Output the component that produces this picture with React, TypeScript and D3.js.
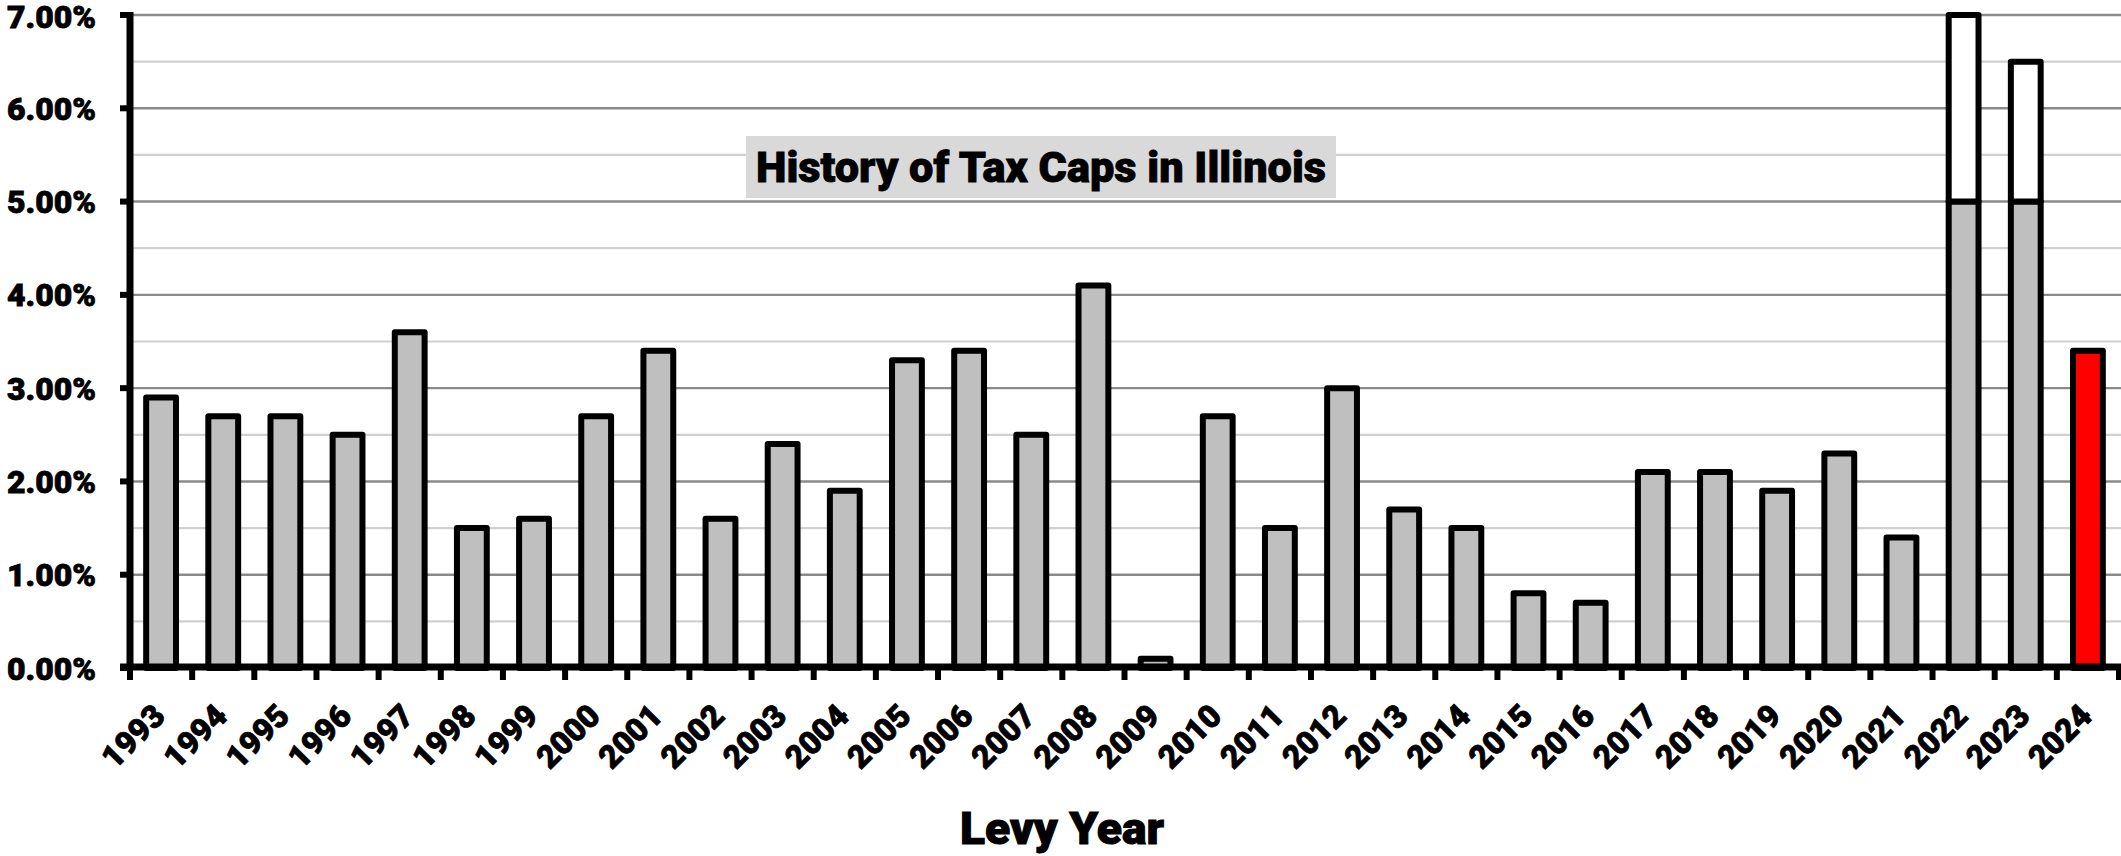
import React from "react";
import * as d3 from "d3";

const years = ["1993","1994","1995","1996","1997","1998","1999","2000","2001","2002","2003","2004","2005","2006","2007","2008","2009","2010","2011","2012","2013","2014","2015","2016","2017","2018","2019","2020","2021","2022","2023","2024"];
const capValues = [2.9,2.7,2.7,2.5,3.6,1.5,1.6,2.7,3.4,1.6,2.4,1.9,3.3,3.4,2.5,4.1,0.1,2.7,1.5,3.0,1.7,1.5,0.8,0.7,2.1,2.1,1.9,2.3,1.4,5.0,5.0,3.4];
const excessValues = [0,0,0,0,0,0,0,0,0,0,0,0,0,0,0,0,0,0,0,0,0,0,0,0,0,0,0,0,0,2.0,1.5,0];
const highlightYear = "2024";
const yTicks = [0,1,2,3,4,5,6,7];
const yMinorTicks = [0.5,1.5,2.5,3.5,4.5,5.5,6.5];
const title = "History of Tax Caps in Illinois";
const xTitle = "Levy Year";

const W = 2121, H = 856;
const FONT = "Roboto, 'Liberation Sans', Arial, sans-serif";

export default function App() {
  const x = d3.scaleBand<string>().domain(years).range([130, 2119]).paddingInner(0.52).paddingOuter(0.26);
  const y = d3.scaleLinear().domain([0, 7]).range([668, 15]);
  const step = x.step();
  const bw = x.bandwidth();
  const y0 = y(0);

  const rows = years.map((yr, i) => ({ yr, cap: capValues[i], extra: excessValues[i] }));

  return (
    <svg width={W} height={H} style={{ position: "absolute", left: 0, top: 0, display: "block", background: "#fff" }}>
      <rect x={0} y={0} width={W} height={H} fill="#fff" />
      {/* gridlines */}
      {yMinorTicks.map((t) => (
        <line key={"m" + t} x1={130} x2={W} y1={y(t)} y2={y(t)} stroke="#d0d0d0" strokeWidth={2.2} />
      ))}
      {yTicks.filter((t) => t > 0).map((t) => (
        <line key={"g" + t} x1={130} x2={W} y1={y(t)} y2={y(t)} stroke="#8a8a8a" strokeWidth={2.4} />
      ))}
      {/* title box */}
      <rect x={746} y={136} width={590} height={62} fill="#d9d9d9" />
      <text x={1041} y={182} textAnchor="middle" fontFamily={FONT} fontWeight={900} fontSize={42} textLength={570} lengthAdjust="spacingAndGlyphs" fill="#000" stroke="#000" strokeWidth={0.8}>
        {title}
      </text>
      {/* bars */}
      {rows.map((r) => {
        const bx = x(r.yr)!;
        const fill = r.yr === highlightYear ? "#ff0000" : "#bfbfbf";
        return (
          <g key={r.yr}>
            <rect x={bx} y={y(r.cap)} width={bw} height={y0 - y(r.cap)} fill={fill} stroke="#000" strokeWidth={6} strokeLinejoin="round" />
            {r.extra > 0 && (
              <rect x={bx} y={y(r.cap + r.extra)} width={bw} height={y(r.cap) - y(r.cap + r.extra)} fill="#fff" stroke="#000" strokeWidth={6} strokeLinejoin="round" />
            )}
          </g>
        );
      })}
      {/* y axis */}
      <line x1={130} x2={130} y1={12} y2={y0} stroke="#000" strokeWidth={7} />
      {yTicks.map((t) => (
        <g key={"yt" + t}>
          <line x1={120} x2={130} y1={y(t)} y2={y(t)} stroke="#000" strokeWidth={6} />
          <text x={96} y={Math.max(y(t), 16)} dy="0.36em" textAnchor="end" fontFamily={FONT} fontWeight={900} fontSize={32} fill="#000" stroke="#000" strokeWidth={0.8}>
            {d3.format(".2f")(t) + "%"}
          </text>
        </g>
      ))}
      {/* x axis */}
      <line x1={120} x2={W} y1={y0 - 1} y2={y0 - 1} stroke="#000" strokeWidth={7} />
      {d3.range(years.length + 1).map((i) => {
        const tx = (i < years.length ? x(years[i])! + bw / 2 - step / 2 : x(years[years.length - 1])! + bw / 2 + step / 2);
        return <line key={"xt" + i} x1={tx} x2={tx} y1={y0} y2={680} stroke="#000" strokeWidth={6} />;
      })}
      {years.map((yr) => {
        const cx = x(yr)! + bw / 2 + 6;
        const cy = 718;
        return (
          <text key={"xl" + yr} x={cx} y={cy} transform={`rotate(-45 ${cx} ${cy})`} textAnchor="end" fontFamily={FONT} fontWeight={900} fontSize={32} fill="#000" stroke="#000" strokeWidth={0.8}>
            {yr}
          </text>
        );
      })}
      <text x={1062} y={844} textAnchor="middle" fontFamily={FONT} fontWeight={900} fontSize={44} fill="#000" stroke="#000" strokeWidth={1} textLength={204} lengthAdjust="spacingAndGlyphs">
        {xTitle}
      </text>
    </svg>
  );
}
